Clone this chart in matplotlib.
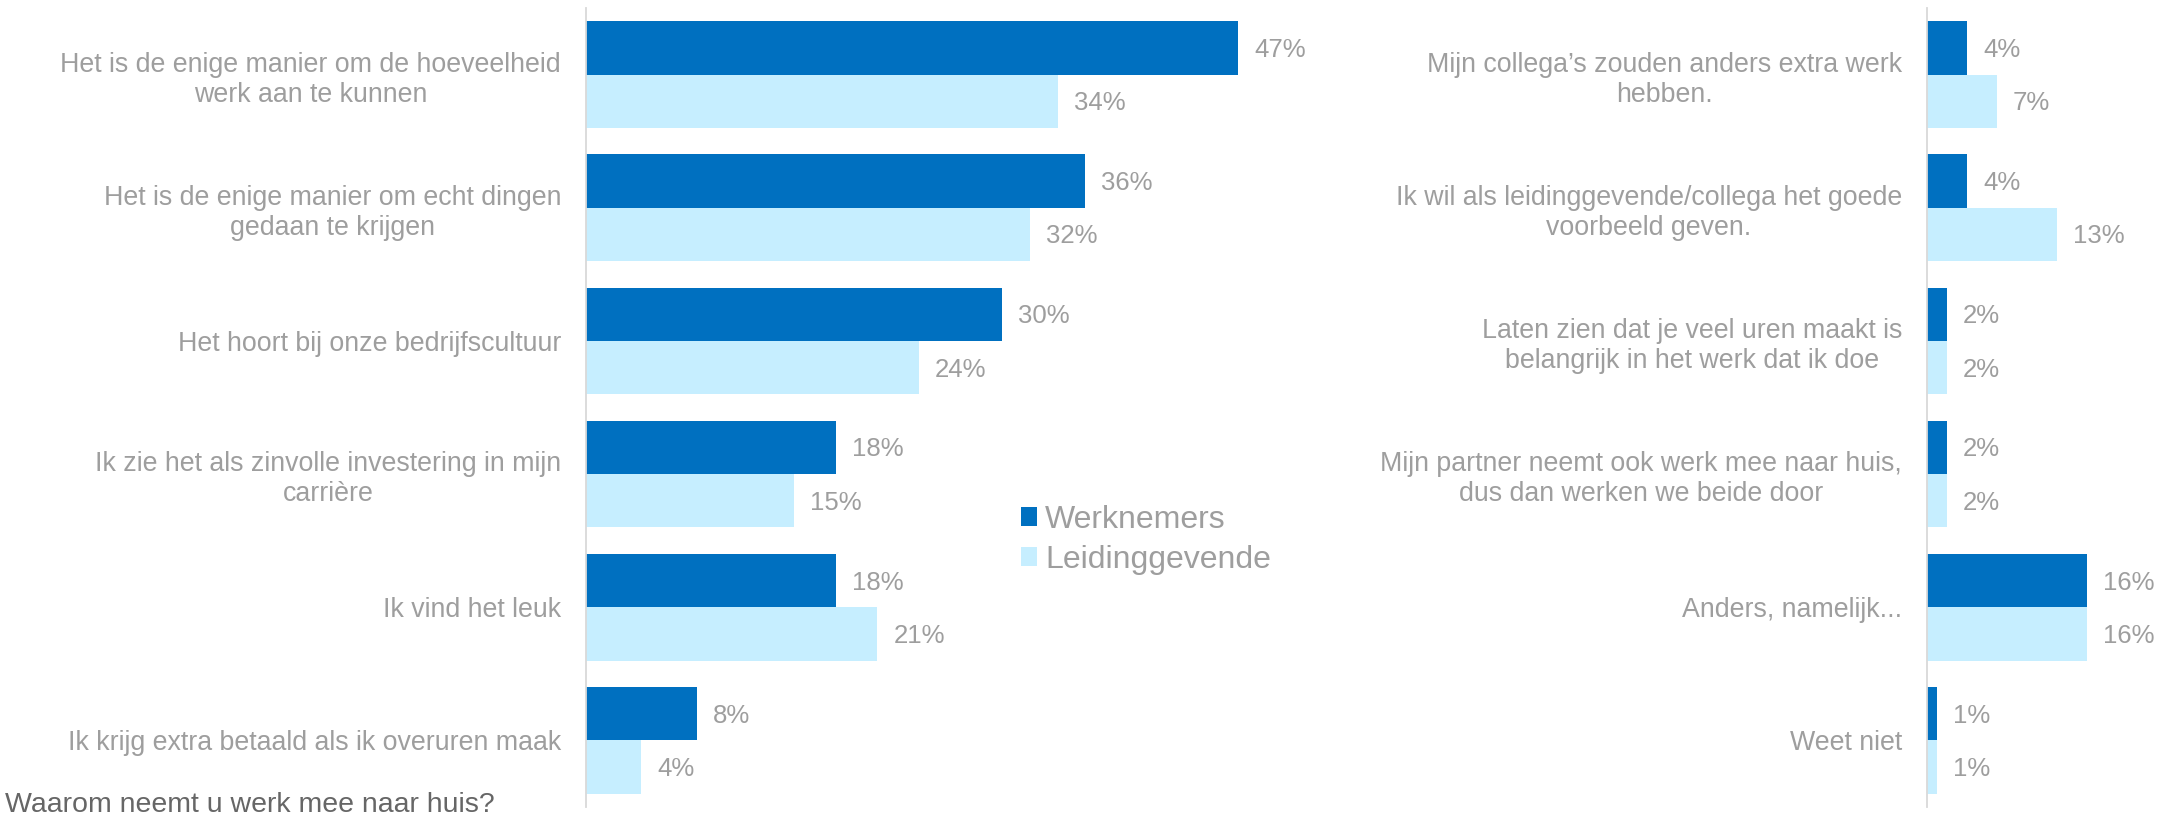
import matplotlib.pyplot as plt
from matplotlib.transforms import offset_copy

plt.rcParams['font.family'] = ['Liberation Sans', 'DejaVu Sans']

# Reasons, top to bottom, left block
left_labels = [
    'Het is de enige manier om de hoeveelheid\nwerk aan te kunnen',
    'Het is de enige manier om echt dingen\ngedaan te krijgen',
    'Het hoort bij onze bedrijfscultuur',
    'Ik zie het als zinvolle investering in mijn\ncarrière',
    'Ik vind het leuk',
    'Ik krijg extra betaald als ik overuren maak',
]
left_werknemers = [47, 36, 30, 18, 18, 8]
left_leiding = [34, 32, 24, 15, 21, 4]

# Reasons, top to bottom, right block
right_labels = [
    'Mijn collega’s zouden anders extra werk\nhebben.',
    'Ik wil als leidinggevende/collega het goede\nvoorbeeld geven.',
    'Laten zien dat je veel uren maakt is\nbelangrijk in het werk dat ik doe',
    'Mijn partner neemt ook werk mee naar huis,\ndus dan werken we beide door',
    'Anders, namelijk...',
    'Weet niet',
]
right_werknemers = [4, 4, 2, 2, 16, 1]
right_leiding = [7, 13, 2, 2, 16, 1]

series_names = ['Werknemers', 'Leidinggevende']
title = 'Waarom neemt u werk mee naar huis?'

DARK = '#0070C0'
LIGHT = '#C6EEFF'
TEXT = '#9E9E9E'
AXIS = '#D9D9D9'

W, H = 2159, 823
fig = plt.figure(figsize=(W / 100, H / 100), dpi=100)

# axes boxes in pixels: left, top, bottom, width
ax_top, ax_bot = 8, 807
ax_left = fig.add_axes([586 / W, (H - ax_bot) / H, 693.5 / W, (ax_bot - ax_top) / H])
ax_right = fig.add_axes([1927 / W, (H - ax_bot) / H, 230 / W, (ax_bot - ax_top) / H])


def draw_block(ax, labels, v1, v2, xmax):
    n = len(labels)
    y = list(range(n))
    h = 0.40
    ax.barh([i - h / 2 for i in y], v1, height=h, color=DARK, label=series_names[0])
    ax.barh([i + h / 2 for i in y], v2, height=h, color=LIGHT, label=series_names[1])
    ax.set_xlim(0, xmax)
    ax.set_ylim(n - 0.5, -0.5)
    ax.set_xticks([])
    ax.set_yticks(y)
    ax.set_yticklabels(labels, fontsize=19.3, color=TEXT, multialignment='center')
    ax.tick_params(axis='y', length=0, pad=18)
    for s in ['top', 'right', 'bottom']:
        ax.spines[s].set_visible(False)
    ax.spines['left'].set_color(AXIS)
    ax.spines['left'].set_linewidth(1.3)

    # value labels: 16 px right of the bar end, digits centred on the bar
    trans = offset_copy(ax.transData, fig=fig, x=16, y=-9, units='dots')
    for i in y:
        ax.text(v1[i], i - h / 2, f'{v1[i]}%', va='baseline', ha='left',
                fontsize=18.5, color=TEXT, clip_on=False, transform=trans)
        ax.text(v2[i], i + h / 2, f'{v2[i]}%', va='baseline', ha='left',
                fontsize=18.5, color=TEXT, clip_on=False, transform=trans)


draw_block(ax_left, left_labels, left_werknemers, left_leiding, 50)
draw_block(ax_right, right_labels, right_werknemers, right_leiding, 23)

ax_left.legend(loc='center left', bbox_to_anchor=(1021 / W, 1 - 540 / H),
               bbox_transform=fig.transFigure, frameon=False, fontsize=23,
               labelcolor=TEXT, handlelength=0.5, handleheight=0.55,
               handletextpad=0.25, labelspacing=0.31, borderpad=0, borderaxespad=0)

fig.text(5 / W, 1 - 812 / H, title, fontsize=20.5, color='#666666', va='baseline', ha='left')

fig.savefig('out.png', dpi=100)
